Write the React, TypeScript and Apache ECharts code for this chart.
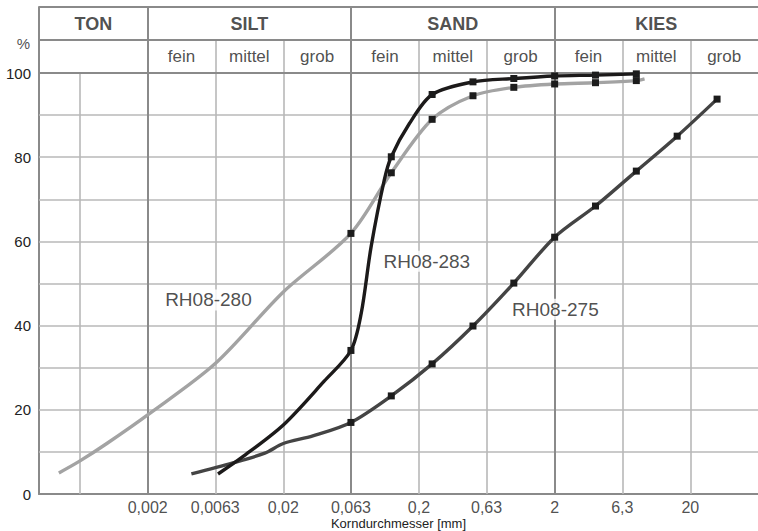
import React, { useEffect, useRef } from 'react';
import * as echarts from 'echarts';

const FONT = '"Liberation Sans", Arial, Helvetica, sans-serif';

// axis extents (log x, percent y incl. header band)
const XMIN = Math.pow(10, -3.5);
const XMAX = Math.pow(10, 1.8);
const Y_PLOT_TOP = 100;
const Y_HEADER_MID = 107.84;
const Y_HEADER_TOP = 115.68;

// x tick labels
const tickValues = [0.002, 0.0063, 0.02, 0.063, 0.2, 0.63, 2, 6.3, 20];
const tickLabels = ['0,002', '0,0063', '0,02', '0,063', '0,2', '0,63', '2', '6,3', '20'];
const extraGridX = [0.00063];
const majorBounds = [0.002, 0.063, 2];
const minorBounds = [0.0063, 0.02, 0.2, 0.63, 6.3, 20];
const hGrid = [10, 20, 30, 40, 50, 60, 70, 80, 90];
const hFrame = [100, 107.84, 115.68];

// header classes
const mainClasses = ['TON', 'SILT', 'SAND', 'KIES'];
const mainBounds = [XMIN, 0.002, 0.063, 2, XMAX];
const subClasses = ['fein', 'mittel', 'grob', 'fein', 'mittel', 'grob', 'fein', 'mittel', 'grob'];
const subBounds = [0.002, 0.0063, 0.02, 0.063, 0.2, 0.63, 2, 6.3, 20, XMAX];

// RH08-280
const rh280D = [0.000443, 0.00063, 0.001, 0.002, 0.0063, 0.02, 0.063, 0.125, 0.25, 0.5, 1, 2, 4, 8, 9.2];
const rh280P = [5.0, 7.8, 12.0, 18.8, 31.0, 48.0, 61.9, 76.3, 89.0, 94.6, 96.6, 97.4, 97.7, 98.2, 98.6];
const rh280M = [0, 0, 0, 0, 0, 0, 1, 1, 1, 1, 1, 1, 1, 1, 0];

// RH08-275
const rh275D = [0.0042, 0.0085, 0.0146, 0.02, 0.033, 0.063, 0.125, 0.25, 0.5, 1, 2, 4, 8, 16, 31.5];
const rh275P = [4.8, 7.4, 9.7, 12.0, 13.8, 17.0, 23.3, 30.9, 39.9, 50.1, 61.0, 68.4, 76.7, 85.0, 93.8];
const rh275M = [0, 0, 0, 0, 0, 1, 1, 1, 1, 1, 1, 1, 1, 1, 1];

// RH08-283
const rh283D = [0.0066, 0.01, 0.02, 0.04, 0.063, 0.075, 0.0887, 0.111, 0.125, 0.17, 0.25, 0.5, 1, 2, 4, 8];
const rh283P = [4.75, 8.8, 16.4, 26.8, 34.1, 42.9, 58.7, 74.6, 80.1, 88.0, 94.9, 97.9, 98.7, 99.3, 99.5, 99.8];
const rh283M = [0, 0, 0, 0, 1, 0, 0, 0, 1, 0, 1, 1, 1, 1, 1, 1];

// curve labels
const curveNames = ['RH08-280', 'RH08-283', 'RH08-275'];
const curveLabelX = [0.00561, 0.2286, 2.026];
const curveLabelY = [46.1, 55.3, 43.9];

const gmean = (a: number, b: number) => Math.sqrt(a * b);

function vSeg(x: number, y0: number, y1: number) {
  return [{ coord: [x, y0] }, { coord: [x, y1] }];
}

export default function App() {
  const ref = useRef<HTMLDivElement>(null);

  useEffect(() => {
    if (!ref.current) return;
    const chart = echarts.init(ref.current, undefined, { renderer: 'svg' });

    const lightLines: any[] = [
      ...hGrid.map((y) => ({ yAxis: y })),
      ...extraGridX.map((x) => vSeg(x, 0, Y_PLOT_TOP)),
      ...minorBounds.map((x) => vSeg(x, 0, Y_HEADER_MID)),
    ];
    const darkLines: any[] = [
      ...hFrame.map((y) => ({ yAxis: y })),
      ...majorBounds.map((x) => vSeg(x, 0, Y_HEADER_TOP)),
    ];

    const markBase = {
      silent: true,
      symbol: ['none', 'none'],
      label: { show: false },
      emphasis: { disabled: true },
      animation: false,
      z: 1,
    };

    const headerMain = mainClasses.map((t, i) => ({
      value: [gmean(mainBounds[i], mainBounds[i + 1]), (Y_HEADER_MID + Y_HEADER_TOP) / 2],
      name: t,
    }));
    const headerSub = subClasses.map((t, i) => ({
      value: [gmean(subBounds[i], subBounds[i + 1]), (Y_PLOT_TOP + Y_HEADER_MID) / 2],
      name: t,
    }));

    const textSeries = (data: any[], fontSize: number, fontWeight: any, extra: any = {}) => ({
      type: 'scatter',
      data,
      symbolSize: 0,
      silent: true,
      clip: false,
      z: 8,
      itemStyle: { color: 'rgba(0,0,0,0)' },
      label: {
        show: true,
        position: 'inside',
        formatter: (p: any) => p.name,
        fontSize,
        fontWeight,
        color: '#222',
        fontFamily: FONT,
        ...extra,
      },
    });

    const curveSeries = (d: number[], p: number[], color: string, z: number) => ({
      type: 'line',
      data: d.map((x, i) => [x, p[i]]),
      smooth: 0.3,
      showSymbol: false,
      z,
      lineStyle: { color, width: 3.4 },
      emphasis: { disabled: true },
      silent: true,
    });

    const markerSeries = (d: number[], p: number[], m: number[], z: number) => ({
      type: 'scatter',
      data: d.map((x, i) => [x, p[i]]).filter((_, i) => m[i]),
      symbol: 'rect',
      symbolSize: 7,
      z,
      itemStyle: { color: '#1c1c1c', borderWidth: 0, opacity: 1 },
      emphasis: { disabled: true },
      silent: true,
    });

    chart.setOption({
      animation: false,
      textStyle: { fontFamily: FONT },
      grid: { left: 39, right: 0, top: 7, bottom: 37, containLabel: false, outerBoundsMode: 'none' },
      xAxis: {
        type: 'log',
        logBase: 10,
        min: XMIN,
        max: XMAX,
        axisLine: { show: true, onZero: false, lineStyle: { color: '#8a8a8a', width: 2 } },
        axisTick: { show: false },
        axisLabel: { show: false },
        splitLine: { show: false },
        name: 'Korndurchmesser [mm]',
        nameLocation: 'middle',
        nameGap: 23,
        nameTextStyle: { fontSize: 13, color: '#222', fontFamily: FONT },
      },
      yAxis: {
        type: 'value',
        min: 0,
        max: Y_HEADER_TOP,
        interval: 20,
        axisLine: { show: true, onZero: false, lineStyle: { color: '#8a8a8a', width: 2 } },
        axisTick: { show: false },
        axisLabel: {
          formatter: (v: number) => (v <= 100 ? String(v) : ''),
          fontSize: 15,
          color: '#222',
          margin: 8,
          fontFamily: FONT,
        },
        splitLine: { show: false },
      },
      series: [
        {
          type: 'line',
          data: [],
          z: 1,
          markLine: { ...markBase, lineStyle: { color: '#b8b8b8', width: 1.6, type: 'solid' }, data: lightLines },
        },
        {
          type: 'line',
          data: [],
          z: 2,
          markLine: { ...markBase, z: 2, lineStyle: { color: '#8a8a8a', width: 2, type: 'solid' }, data: darkLines },
        },
        curveSeries(rh280D, rh280P, '#a3a3a3', 3),
        markerSeries(rh280D, rh280P, rh280M, 3),
        curveSeries(rh275D, rh275P, '#444444', 4),
        markerSeries(rh275D, rh275P, rh275M, 4),
        curveSeries(rh283D, rh283P, '#1c1a1a', 5),
        markerSeries(rh283D, rh283P, rh283M, 5),
        {
          type: 'scatter',
          data: tickValues.map((v, i) => ({ value: [v, 0], name: tickLabels[i] })),
          symbolSize: 0,
          silent: true,
          clip: false,
          itemStyle: { color: 'rgba(0,0,0,0)' },
          label: {
            show: true,
            position: 'bottom',
            distance: 5,
            formatter: (p: any) => p.name,
            fontSize: 16,
            color: '#222',
            fontFamily: FONT,
          },
        },
        {
          type: 'scatter',
          data: [{ value: [XMIN, 106.9], name: '%' }],
          symbolSize: 0,
          silent: true,
          clip: false,
          itemStyle: { color: 'rgba(0,0,0,0)' },
          label: {
            show: true,
            position: 'left',
            distance: 9,
            formatter: (p: any) => p.name,
            fontSize: 15,
            color: '#222',
            fontFamily: FONT,
          },
        },
        textSeries(headerMain, 18, 'bold'),
        textSeries(headerSub, 17, 'normal'),
        textSeries(
          curveNames.map((n, i) => ({ value: [curveLabelX[i], curveLabelY[i]], name: n })),
          19,
          'normal',
          { backgroundColor: '#ffffff', padding: [1, 2] }
        ),
      ],
    });

    return () => chart.dispose();
  }, []);

  return (
    <div
      ref={ref}
      style={{ position: 'absolute', left: 0, top: 0, width: 758, height: 531, background: '#fff' }}
    />
  );
}
